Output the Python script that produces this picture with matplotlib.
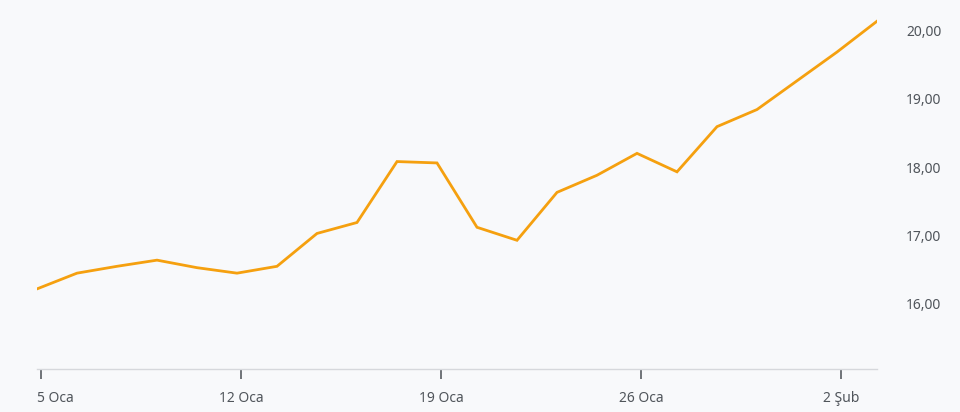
import matplotlib.pyplot as plt
import matplotlib.transforms as mtransforms
import numpy as np

# kapanış değerleri (iş günleri)
values = [16.22, 16.45, 16.55, 16.64, 16.53, 16.45, 16.55, 17.03, 17.19, 18.08, 18.06,
          17.12, 16.93, 17.63, 17.88, 18.20, 17.93, 18.59, 18.84, 19.26, 19.68, 20.13]
tick_index = [0, 5, 10, 15, 20]
tick_labels = ['5 Oca', '12 Oca', '19 Oca', '26 Oca', '2 Şub']
y_ticks = [16, 17, 18, 19, 20]

bg = '#f8f9fb'
line_color = '#f5a00f'
text_color = '#50555b'

plt.rcParams['font.family'] = ['Noto Sans', 'DejaVu Sans']

fig = plt.figure(figsize=(9.6, 4.12), dpi=100, facecolor=bg)
ax = fig.add_axes([37 / 960, 43 / 412, 840 / 960, 369 / 412])
ax.set_facecolor(bg)

x = np.arange(len(values))
ax.plot(x, values, color=line_color, linewidth=2, solid_joinstyle='miter')

ax.set_xlim(0, len(values) - 1)
ax.set_ylim(15.05, 20.44)

for s in ['top', 'left', 'right']:
    ax.spines[s].set_visible(False)
ax.spines['bottom'].set_color('#d6d8dc')
ax.spines['bottom'].set_linewidth(1)

ax.set_xticks([i + 0.1 for i in tick_index])
ax.set_xticklabels(tick_labels)
ax.tick_params(axis='x', length=7, width=1.1, color='#4a4f55', pad=9,
               labelsize=10, labelcolor=text_color, direction='out')
# ilk etiket sola yaslı
first = ax.get_xticklabels()[0]
first.set_horizontalalignment('left')
first.set_transform(first.get_transform() +
                    mtransforms.ScaledTranslation(-4 / 100, 0, fig.dpi_scale_trans))

ax.yaxis.tick_right()
ax.set_yticks(y_ticks)
ax.set_yticklabels([f'{v:.2f}'.replace('.', ',') for v in y_ticks])
ax.tick_params(axis='y', length=0, pad=21, labelsize=10, labelcolor=text_color)

fig.savefig('out.png', dpi=100, facecolor=bg)
